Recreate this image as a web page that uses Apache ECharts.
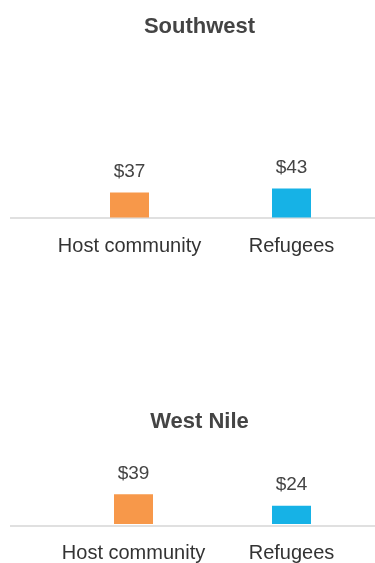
<!DOCTYPE html>
<html>
<head>
<meta charset="utf-8">
<script src="https://cdn.jsdelivr.net/npm/echarts@6/dist/echarts.min.js"></script>
<style>
  html, body { margin: 0; padding: 0; background: #fff; }
  #chart { width: 375px; height: 563px; }
</style>
</head>
<body>
<div id="chart"></div>
<script>
  // data
  const regions = ['Southwest', 'West Nile'];
  const categories = ['Host community', 'Refugees'];
  const southwestValues = [37, 43];
  const westNileValues = [39, 24];
  const barColors = ['#f7984a', '#16b2e6'];

  const FONT = '"Liberation Sans", Arial, sans-serif';

  // layout of the two panels
  const panels = [
    { top: 150, height: 67.5, left: 48.5, right: 2.5, titleTop: 16, values: southwestValues },
    { top: 447.5, height: 78, left: 54.5, right: 4.5, titleTop: 411, values: westNileValues }
  ];

  const chart = echarts.init(document.getElementById('chart'));

  chart.setOption({
    backgroundColor: '#fff',
    animation: false,

    title: panels.map((p, i) => ({
      text: regions[i],
      left: 199.5,
      top: p.titleTop,
      padding: 0,
      textAlign: 'center',
      textStyle: {
        fontFamily: FONT,
        fontSize: 22,
        fontWeight: 'bold',
        color: '#444'
      }
    })),

    grid: panels.map(p => ({
      top: p.top,
      height: p.height,
      left: p.left,
      right: p.right,
      containLabel: false
    })),

    xAxis: panels.map((p, i) => ({
      type: 'category',
      gridIndex: i,
      data: categories,
      axisLine: { show: false },
      axisTick: { show: false },
      axisLabel: {
        interval: 0,
        hideOverlap: false,
        margin: 19,
        fontFamily: FONT,
        fontSize: 20,
        color: '#333'
      }
    })),

    yAxis: panels.map((p, i) => ({
      type: 'value',
      gridIndex: i,
      min: 0,
      max: 100,
      show: false,
      splitLine: { show: false }
    })),

    // baselines, wider than the plot area
    graphic: panels.map(p => ({
      type: 'rect',
      shape: { x: 10, y: p.top + p.height - 0.5, width: 365, height: 2 },
      style: { fill: '#e0e0e0' },
      z: 1
    })),

    series: panels.map((p, i) => ({
      type: 'bar',
      xAxisIndex: i,
      yAxisIndex: i,
      barWidth: 39,
      z: 3,
      data: p.values.map((v, j) => ({
        value: v,
        itemStyle: { color: barColors[j] }
      })),
      label: {
        show: true,
        position: 'top',
        distance: 11,
        fontFamily: FONT,
        fontSize: 19,
        color: '#444',
        formatter: params => '$' + params.value
      }
    }))
  });
</script>
</body>
</html>
